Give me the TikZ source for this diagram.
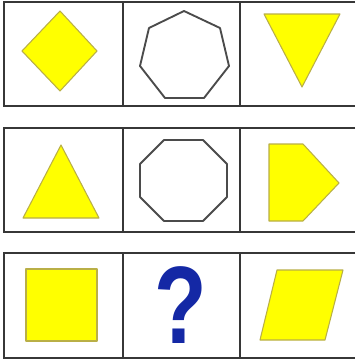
\documentclass[tikz,border=0pt]{standalone}
\usepackage{fontspec}
\setsansfont{Liberation Sans}
\usepackage{xcolor}
\definecolor{shapeyellow}{RGB}{255, 255, 0}
\definecolor{shapeedge}{RGB}{185, 175, 70}
\definecolor{gridgray}{RGB}{55, 55, 55}
\definecolor{qblue}{RGB}{20, 40, 165}
\tikzset{
  grid/.style={draw=gridgray, line width=1.6pt},
  yshape/.style={fill=shapeyellow, draw=shapeedge, line width=0.9pt, line join=round},
  oshape/.style={draw=gridgray!90, line width=1.6pt, line join=round},
}

\begin{document}
\begin{tikzpicture}[x=0.03cm, y=-0.03cm]
    \useasboundingbox (0,0) rectangle (355,360);
    \fill[white] (0,0) rectangle (355,360);

    % three rows of cells, open at the right edge
    \foreach \top/\bot in {2/106, 128/232, 253/358} {
        \draw[grid] (355,\top) -- (4,\top) -- (4,\bot) -- (355,\bot);
        \draw[grid] (123,\top) -- (123,\bot);
        \draw[grid] (240,\top) -- (240,\bot);
    }

    % row 1
    \draw[yshape] (60,11) -- (97,51) -- (60,91) -- (22,51) -- cycle;
    \draw[oshape] (184,11) -- (220,28) -- (229,66) -- (204,98)
        -- (165,98) -- (140,66) -- (149,28) -- cycle;
    \draw[yshape] (264,14) -- (340,14) -- (302,87) -- cycle;

    % row 2
    \draw[yshape] (61,145) -- (99,218) -- (23,218) -- cycle;
    \draw[oshape] (164,140) -- (203,140) -- (227,164) -- (227,197)
        -- (203,221) -- (164,221) -- (140,197) -- (140,164) -- cycle;
    \draw[yshape] (269,144) -- (303,144) -- (339,183) -- (303,221)
        -- (269,221) -- cycle;

    % row 3
    \draw[yshape] (26,269) rectangle (97,341);
    \node[text=qblue, font=\sffamily\bfseries\fontsize{94}{94}\selectfont,
          inner sep=0pt, anchor=base, xscale=0.78] (q) at (181,343) {?};
    \draw[yshape] (277,270) -- (343,270) -- (325,340) -- (260,340) -- cycle;
\end{tikzpicture}
\end{document}
